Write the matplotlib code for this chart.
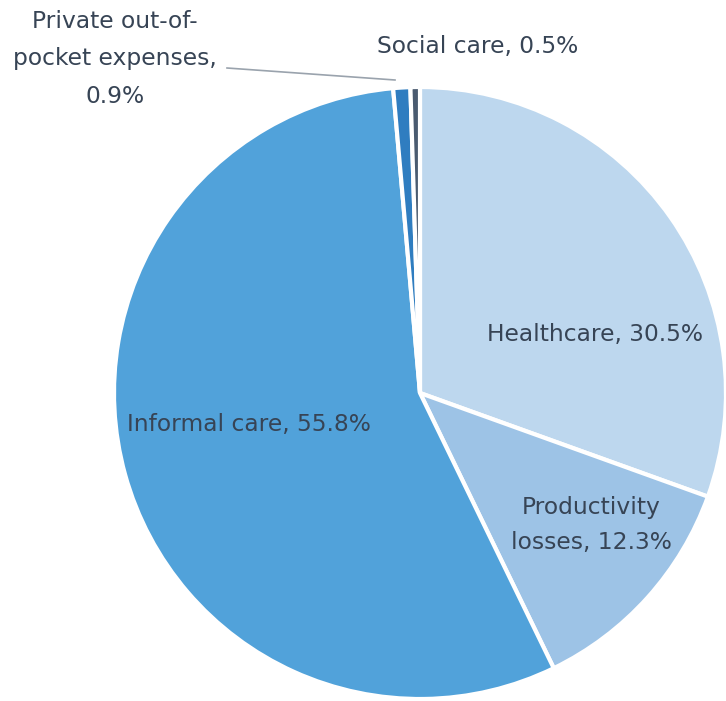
import matplotlib.pyplot as plt

# Cost components (share of total, %), clockwise from 12 o'clock
categories = ["Healthcare", "Productivity losses", "Informal care",
              "Private out-of-pocket expenses", "Social care"]
shares = [30.5, 12.3, 55.8, 0.9, 0.5]
colors = ["#BDD7EE", "#9DC3E6", "#51A2DA", "#2F7DC0", "#4A5B70"]

plt.rcParams['font.family'] = ['DejaVu Sans']

W, H = 726, 701
fig = plt.figure(figsize=(W / 100, H / 100), dpi=100)
ax = fig.add_axes([0, 0, 1, 1])

cx, cy, r = 420, H - 393, 306
wedges, _ = ax.pie(shares, colors=colors, startangle=90, counterclock=False,
                   center=(cx, cy), radius=r, frame=True,
                   wedgeprops=dict(edgecolor='white', linewidth=3))
ax.set_xlim(0, W)
ax.set_ylim(0, H)
ax.set_aspect('equal')
ax.axis('off')

txt = dict(color='#374455', fontsize=16.8, ha='center', va='center')


def fmt(v):
    return f"{v:.1f}%"


ax.text(595, H - 335, f"{categories[0]}, {fmt(shares[0])}", **txt)
ax.text(591, H - 525, f"Productivity\nlosses, {fmt(shares[1])}",
        linespacing=1.7, **txt)
ax.text(249, H - 425, f"{categories[2]}, {fmt(shares[2])}", **txt)
ax.text(478, H - 46, f"{categories[4]}, {fmt(shares[4])}", **txt)
ax.text(115, H - 59, f"Private out-of-\npocket expenses,\n{fmt(shares[3])}",
        linespacing=1.8, **txt)

# leader line for the thin private-expenses slice
ax.plot([227, 395], [H - 68, H - 80], color='#9AA3AD', linewidth=1.2)

fig.savefig("out.png", dpi=100, facecolor='white')
